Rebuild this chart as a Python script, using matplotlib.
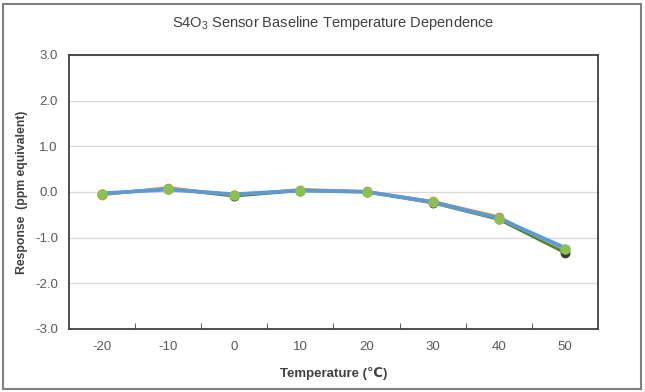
import matplotlib.pyplot as plt
from matplotlib.patches import Rectangle

plt.rcParams["font.family"] = ["Liberation Sans", "DejaVu Sans"]
plt.rcParams["mathtext.fontset"] = "custom"
plt.rcParams["mathtext.rm"] = "Liberation Sans"
plt.rcParams["mathtext.it"] = "Liberation Sans"

# Temperaturas (categorias do eixo x)
temps = ["-20", "-10", "0", "10", "20", "30", "40", "50"]

# Respostas de cada sensor
s_orange = [-0.06, 0.09, -0.08, 0.05, 0.01, -0.21, -0.55, -1.29]
s_dark = [-0.05, 0.07, -0.09, 0.03, 0.00, -0.24, -0.60, -1.33]
s_gray = [-0.04, 0.07, -0.06, 0.04, 0.00, -0.23, -0.57, -1.26]
s_blue = [-0.03, 0.05, -0.05, 0.03, 0.00, -0.22, -0.58, -1.22]
s_green = [-0.04, 0.07, -0.07, 0.03, 0.00, -0.23, -0.59, -1.24]

yticks = [-3.0, -2.0, -1.0, 0.0, 1.0, 2.0, 3.0]

fig = plt.figure(figsize=(6.45, 3.92), dpi=100)
ax = fig.add_axes([0.107, 0.161, 0.820, 0.699])

x = list(range(len(temps)))
ax.plot(x, s_orange, color="#ed7d31", lw=2.2, marker="o", ms=6, zorder=3)
ax.plot(x, s_dark, color="#548235", lw=2.2, marker="o", ms=6,
        mfc="#2f3f2a", mec="#2f3f2a", zorder=3)
ax.plot(x, s_gray, color="#a5a5a5", lw=2.2, marker="o", ms=6, zorder=3)
ax.plot(x, s_blue, color="#5b9bd5", lw=2.6, zorder=4)
ax.plot(x, s_green, color="#70ad47", lw=0, marker="o", ms=6.5,
        mfc="#8cc152", mec="#8cc152", zorder=5)

ax.set_xlim(-0.5, len(temps) - 0.5)
ax.set_ylim(-3, 3)
ax.set_yticks(yticks)
ax.set_yticklabels([f"{v:.1f}" for v in yticks])
ax.set_xticks(x)
ax.set_xticklabels(temps)
ax.set_xticks([i + 0.5 for i in range(len(temps) - 1)], minor=True)
ax.tick_params(axis="x", which="major", length=0, pad=9, labelsize=9.5, colors="#595959")
ax.tick_params(axis="x", which="minor", length=4, direction="in", color="#404040")
ax.tick_params(axis="y", length=0, pad=8, labelsize=9.5, colors="#595959")

ax.grid(axis="y", color="#d9d9d9", lw=0.9)
ax.set_axisbelow(True)
for s in ax.spines.values():
    s.set_color("#404040")
    s.set_linewidth(1.3)

ax.set_title("S4O$_3$ Sensor Baseline Temperature Dependence",
             fontsize=10.5, color="#404040", pad=20)
ax.set_xlabel("Temperature (\u2103)", fontsize=9.5, fontweight="bold",
              color="#404040", labelpad=10)
ax.set_ylabel("Response  (ppm equivalent)", fontsize=8.8, fontweight="bold",
              color="#404040", labelpad=5)

# Moldura externa do gráfico
fig.patches.append(Rectangle((0.005, 0.008), 0.989, 0.982, transform=fig.transFigure,
                             fill=False, ec="#808080", lw=1.5))

plt.savefig("out.png", dpi=100)
